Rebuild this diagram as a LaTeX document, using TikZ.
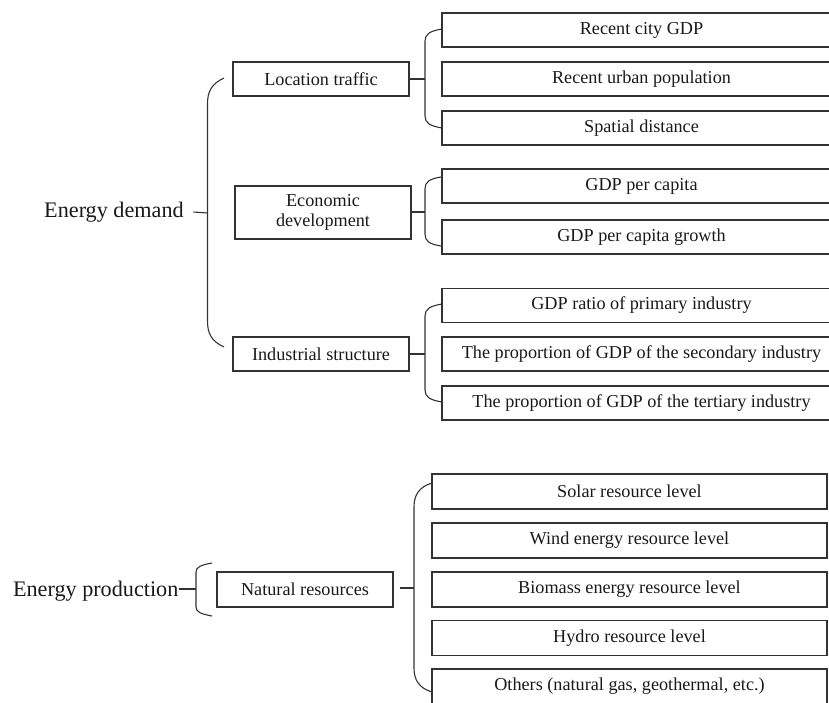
\documentclass[tikz,border=0pt]{standalone}
\usepackage{fontspec}
\setmainfont{Liberation Serif}
\begin{document}
\begin{tikzpicture}[x=1pt,y=-1pt,
  line width=1.1pt, draw=black!85,
  box/.style={draw=black!80, line width=1.1pt, rectangle, inner sep=0pt, align=center,
    font=\fontsize{18.2}{20}\selectfont, text=black!90},
  head/.style={inner sep=0pt, font=\fontsize{22.2}{24}\selectfont, text=black!90},
  link/.style={draw=black!80, line width=1.1pt}]
\useasboundingbox (0,0) rectangle (829,702);
\clip (0,0) rectangle (829,702);
% ---------- Energy demand ----------
\node[head] (ed) at (114,212) {Energy demand};
\node[box, minimum width=176pt, minimum height=34pt] (lt) at (321,79) {Location traffic};
\node[box, minimum width=176pt, minimum height=53pt] (ec) at (323,212.5) {Economic\\development};
\node[box, minimum width=176pt, minimum height=34pt] (is) at (321,354) {Industrial structure};
% right boxes
\node[box, minimum width=399pt, minimum height=34pt] (r1) at (641.5,30) {Recent city GDP};
\node[box, minimum width=399pt, minimum height=34pt] (r2) at (641.5,79) {Recent urban population};
\node[box, minimum width=399pt, minimum height=34pt] (r3) at (641.5,128) {Spatial distance};
\node[box, minimum width=399pt, minimum height=34pt] (r4) at (641.5,186) {GDP per capita};
\node[box, minimum width=399pt, minimum height=34pt] (r5) at (641.5,237) {GDP per capita growth};
\node[box, minimum width=399pt, minimum height=34pt] (r6) at (641.5,305.5) {GDP ratio of primary industry};
\node[box, minimum width=399pt, minimum height=34pt] (r7) at (641.5,354) {The proportion of GDP of the secondary industry};
\node[box, minimum width=399pt, minimum height=34pt] (r8) at (641.5,403) {The proportion of GDP of the tertiary industry};
% main bracket
\coordinate (b0) at (207.5,213);
\draw[link] (224,78) .. controls (211,84) and (207.5,92) .. (207.5,104) -- (207.5,321) .. controls (207.5,333) and (211,341) .. (224,347);
\draw[link] (ed.east) ++(9pt,0) coordinate (edd) (edd) -- (b0);
% location traffic bracket
\coordinate (b1) at (425,79);
\draw[link] (442,29) .. controls (430,31) and (425,34) .. (425,41) -- (425,116) .. controls (425,123) and (430,126) .. (442,128);
\draw[link] (lt.east) -- (b1);
% economic bracket
\coordinate (b2) at (425,212);
\draw[link] (441,177) .. controls (429,179) and (425,182) .. (425,189) -- (425,234) .. controls (425,241) and (429,244) .. (441,246);
\draw[link] (ec.east |- b2) -- (b2);
% industrial bracket
\coordinate (b3) at (425,354);
\draw[link] (442,304) .. controls (430,306) and (425,309) .. (425,316) -- (425,390) .. controls (425,397) and (430,400) .. (442,402);
\draw[link] (is.east) -- (b3);
% ---------- Energy production ----------
\node[head, anchor=east] (ep) at (179,591) {Energy production};
\node[box, minimum width=176pt, minimum height=35pt] (nr) at (305,589.5) {Natural resources};
\node[box, minimum width=395pt, minimum height=35pt] (s1) at (629.5,491.5) {Solar resource level};
\node[box, minimum width=395pt, minimum height=35pt] (s2) at (629.5,540.5) {Wind energy resource level};
\node[box, minimum width=395pt, minimum height=35pt] (s3) at (629.5,589.5) {Biomass energy resource level};
\node[box, minimum width=395pt, minimum height=35pt] (s4) at (629.5,638) {Hydro resource level};
\node[box, minimum width=395pt, minimum height=35pt] (s5) at (629.5,686.5) {Others (natural gas, geothermal, etc.)};
% small bracket
\coordinate (b4) at (196,589);
\draw[link] (212,563) .. controls (201,565) and (196,567) .. (196,572) -- (196,607) .. controls (196,612) and (201,614) .. (212,616);
\draw[link] (ep.east |- b4) -- (b4);
% natural resources bracket
\coordinate (b5) at (414,588);
\draw[link] (432,483) .. controls (419,487) and (414,495) .. (414,507) -- (414,668) .. controls (414,680) and (419,688) .. (432,692);
\draw[link, shorten <=6pt] (nr.east |- b5) -- (b5);
\end{tikzpicture}
\end{document}
